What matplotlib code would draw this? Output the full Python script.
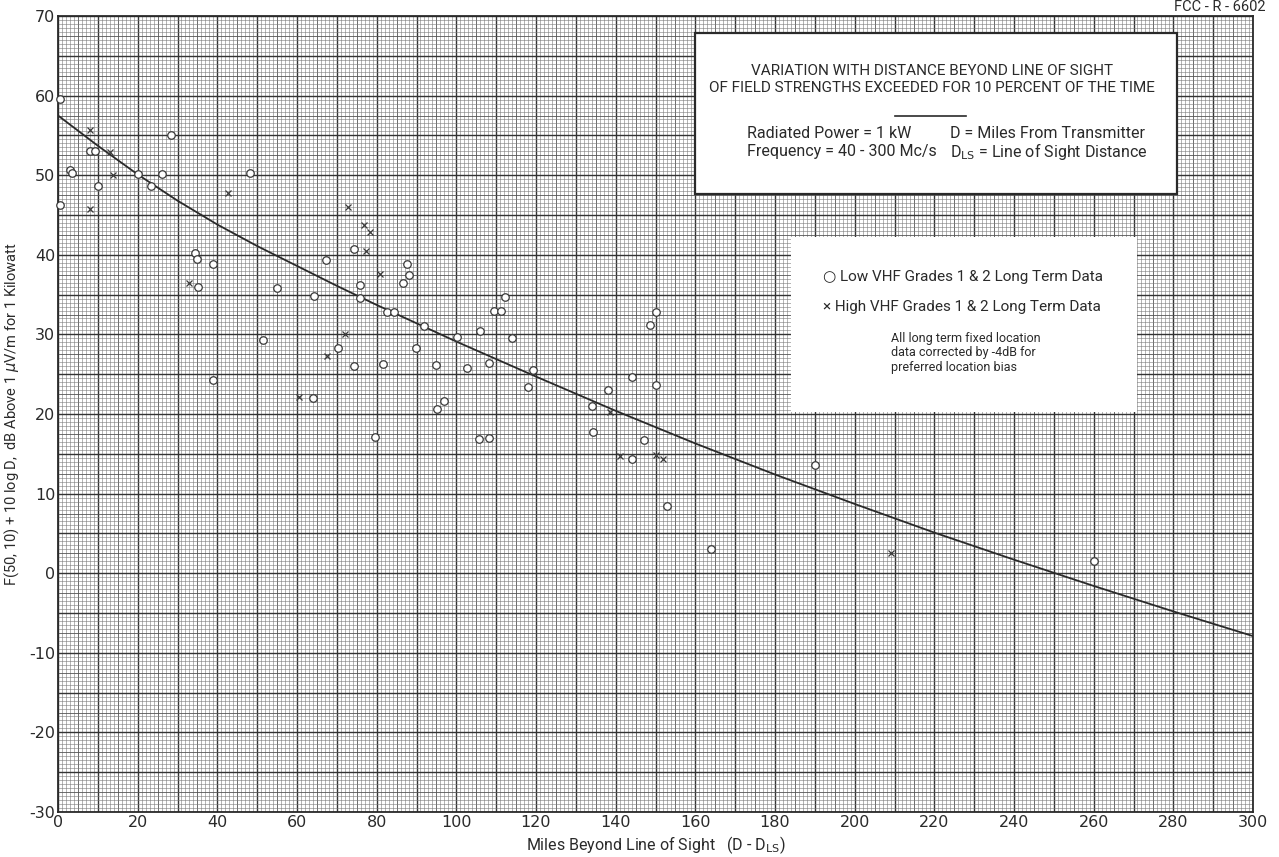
import numpy as np
import matplotlib
matplotlib.use('Agg')
import matplotlib.pyplot as plt
from matplotlib.patches import Rectangle

# --- data ----------------------------------------------------------------
# Low VHF grades 1 & 2 long term data (circles)
low_x = [0.5, 0.5, 3.0, 3.4, 8.0, 9.3, 10.0, 20.2, 23.4, 26.2, 28.4, 48.1,
         34.5, 35.0, 35.2, 38.8, 38.8, 51.5, 55.0, 64.1, 64.3, 67.3, 70.3,
         74.2, 74.4, 75.9, 75.9, 79.5, 81.6, 82.7, 84.3, 86.5, 87.6, 88.0,
         89.9, 91.8, 95.0, 95.1, 96.8, 100.2, 102.8, 105.8, 106.0, 108.1,
         108.2, 109.5, 111.1, 112.1, 114.0, 118.0, 119.2, 134.0, 134.3,
         138.0, 144.0, 144.2, 147.0, 148.5, 150.0, 150.0, 153.0, 164.0,
         190.0, 260.0]
low_y = [59.6, 46.2, 50.6, 50.3, 53.0, 53.0, 48.6, 50.2, 48.7, 50.1, 55.0, 50.3,
         40.2, 39.5, 36.0, 38.9, 24.3, 29.3, 35.8, 22.0, 34.8, 39.4, 28.3,
         40.7, 26.0, 36.2, 34.6, 17.1, 26.3, 32.8, 32.8, 36.4, 38.9, 37.5,
         28.3, 31.0, 26.2, 20.6, 21.6, 29.7, 25.8, 16.8, 30.4, 26.4,
         17.0, 33.0, 32.9, 34.7, 29.5, 23.4, 25.5, 21.0, 17.8,
         23.0, 14.3, 24.7, 16.7, 31.2, 32.8, 23.7, 8.4, 3.0,
         13.6, 1.5]

# High VHF grades 1 & 2 long term data (crosses)
high_x = [8.0, 8.0, 13.1, 13.9, 33.0, 42.6, 60.4, 67.5, 72.1, 72.9, 76.9,
          78.4, 77.3, 80.9, 138.5, 141.0, 150.0, 152.0, 209.0]
high_y = [55.7, 45.7, 52.9, 50.0, 36.5, 47.8, 22.1, 27.3, 30.0, 46.0, 43.7,
          42.9, 40.5, 37.6, 20.3, 14.7, 14.8, 14.4, 2.5]

# median curve
curve_x = [0, 10, 20, 30, 40, 50, 60, 70, 80, 90, 100, 120, 140, 160, 180,
           200, 220, 240, 260, 280, 300]
curve_y = [57.5, 53.7, 50.1, 46.8, 43.8, 41.1, 38.6, 36.1, 33.7, 31.4, 29.1,
           24.7, 20.4, 16.3, 12.4, 8.7, 5.1, 1.7, -1.6, -4.8, -7.9]

x_ticks = list(range(0, 301, 20))
y_ticks = list(range(-30, 71, 10))

# --- figure ---------------------------------------------------------------
narrow = ['Roboto', 'DejaVu Sans']
ink = '#2a2a2a'

fig = plt.figure(figsize=(12.79, 8.57), dpi=100)
ax = fig.add_axes([58 / 1279, 1 - 812 / 857, 1195 / 1279, 796 / 857])
ax.set_xlim(0, 300)
ax.set_ylim(-30, 70)

# graph paper
for v in np.arange(0, 301, 1):
    if v % 10 == 0:
        lw, c = 1.0, '#333333'
    elif v % 5 == 0:
        lw, c = 0.6, '#555555'
    else:
        lw, c = 0.4, '#7a7a7a'
    ax.axvline(v, color=c, lw=lw, zorder=0)
for v in np.arange(-30, 70.01, 0.5):
    if abs(v % 5) < 1e-9:
        lw, c = 1.0, '#333333'
    elif abs(v % 2.5) < 1e-9:
        lw, c = 0.6, '#555555'
    else:
        lw, c = 0.4, '#7a7a7a'
    ax.axhline(v, color=c, lw=lw, zorder=0)

for s in ax.spines.values():
    s.set_linewidth(1.3)
    s.set_color(ink)

ax.set_xticks(x_ticks)
ax.set_yticks(y_ticks)
ax.tick_params(length=0, pad=2, labelsize=11.5, colors=ink)
ax.set_yticklabels([str(t) for t in y_ticks])

# curve and data
ax.plot(curve_x, curve_y, color=ink, lw=1.3, zorder=3)
ax.plot(low_x, low_y, 'o', ms=5.4, mfc='white', mec='#3a3a3a', mew=0.9,
        zorder=4, clip_on=False)
ax.plot(high_x, high_y, 'x', ms=4.5, color='#3a3a3a', mew=0.9, zorder=4)

# title box
ax.add_patch(Rectangle((160, 47.7), 121, 20.2, facecolor='white',
                       edgecolor=ink, lw=1.6, zorder=5))
ax.text(219.5, 63.1, 'VARIATION WITH DISTANCE BEYOND LINE OF SIGHT',
        ha='center', va='center', fontsize=11, family=narrow, color=ink,
        zorder=6)
ax.text(219.5, 61.0, 'OF FIELD STRENGTHS EXCEEDED FOR 10 PERCENT OF THE TIME',
        ha='center', va='center', fontsize=11, family=narrow, color=ink,
        zorder=6)
ax.plot([210, 228], [57.5, 57.5], color=ink, lw=1.2, zorder=6)
ax.text(173, 55.3, 'Radiated Power = 1 kW', ha='left', va='center',
        fontsize=11.5, family=narrow, color=ink, zorder=6)
ax.text(173, 53.0, 'Frequency = 40 - 300 Mc/s', ha='left', va='center',
        fontsize=11.5, family=narrow, color=ink, zorder=6)
ax.text(224, 55.3, 'D = Miles From Transmitter', ha='left', va='center',
        fontsize=11.5, family=narrow, color=ink, zorder=6)
ax.text(224, 53.0, r'D$_{\mathrm{LS}}$ = Line of Sight Distance',
        ha='left', va='center', fontsize=11.5, family=narrow, color=ink,
        zorder=6)

# legend box
ax.add_patch(Rectangle((184, 20.2), 87, 22.0, facecolor='white',
                       edgecolor='none', zorder=5))
ax.text(192, 37.2, '\u25cb Low VHF Grades 1 & 2 Long Term Data', ha='left',
        va='center', fontsize=11, family=narrow, color=ink, zorder=6)
ax.text(192, 33.4, '\u00d7 High VHF Grades 1 & 2 Long Term Data', ha='left',
        va='center', fontsize=11, family=narrow, color=ink, zorder=6)
ax.text(209, 27.7, 'All long term fixed location\ndata corrected by -4dB for\n'
        'preferred location bias', ha='left', va='center', fontsize=9,
        family=narrow, linespacing=1.15, color=ink, zorder=6)

ax.set_xlabel(r'Miles Beyond Line of Sight   (D - D$_{\mathrm{LS}}$)',
              fontsize=11.5, family=narrow, color=ink, labelpad=3)
ax.set_ylabel(r'F(50, 10) + 10 log D,  dB Above 1 $\mu$V/m for 1 Kilowatt',
              fontsize=10.5, family=narrow, color=ink, labelpad=6)

fig.text(1266 / 1279, 1 - 7 / 857, 'FCC - R - 6602', ha='right', va='center',
         fontsize=10.5, family=narrow, color=ink)

fig.savefig('out.png', dpi=100, facecolor='white')
